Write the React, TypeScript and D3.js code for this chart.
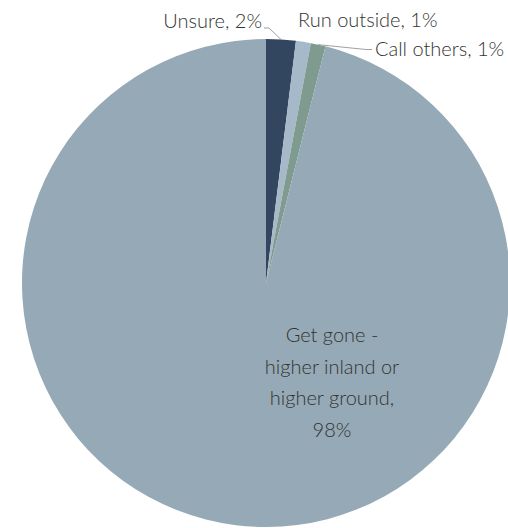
import React from "react";
import * as d3 from "d3";

const categories = ["Unsure", "Run outside", "Call others", "Get gone - higher inland or higher ground"];
const values = [2, 1, 1, 98];
const colors = ["#33465f", "#a6b9c8", "#7f9a8f", "#95aab6"];

const W = 508;
const H = 528;
const CX = 266;
const CY = 283;
const R = 244;
const FONT = "Lato, 'Source Sans Pro', sans-serif";

export default function App() {
  const pie = d3.pie<number>().sort(null).value((d) => d)(values);
  const arc = d3.arc<d3.PieArcDatum<number>>().innerRadius(0).outerRadius(R);
  const pct = (v: number) => `${v}%`;

  const edge = (a: number, r: number) => [CX + r * Math.sin(a), CY - r * Math.cos(a)];
  const mid = (i: number) => (pie[i].startAngle + pie[i].endAngle) / 2;

  const u = edge(mid(0), R);
  const c = edge(mid(2), R);

  return (
    <svg width={W} height={H} style={{ position: "absolute", left: 0, top: 0, background: "#fff" }}>
      <g transform={`translate(${CX},${CY})`}>
        {pie.map((p, i) => (
          <path key={i} d={arc(p) || ""} fill={colors[i]} />
        ))}
      </g>
      {/* leaders */}
      <polyline points={`${u[0]},${u[1]} ${u[0] - 12},28 ${u[0] - 17},28`} fill="none" stroke="#a0a0a0" strokeWidth={1} />
      <polyline points={`${c[0]},${c[1]} 366,49.5 372,49.5`} fill="none" stroke="#a0a0a0" strokeWidth={1} />
      <g fontFamily={FONT} fontSize={20} fontWeight={300} fill="#333">
        <text x={262} y={28} textAnchor="end">{`${categories[0]}, ${pct(values[0])}`}</text>
        <text x={298} y={27} textAnchor="start">{`${categories[1]}, ${pct(values[1])}`}</text>
        <text x={375} y={56} textAnchor="start">{`${categories[2]}, ${pct(values[2])}`}</text>
        <text x={332} textAnchor="middle">
          {["Get gone -", "higher inland or", "higher ground,", pct(values[3])].map((t, i) => (
            <tspan key={i} x={332} y={342 + i * 31.5}>{t}</tspan>
          ))}
        </text>
      </g>
    </svg>
  );
}
